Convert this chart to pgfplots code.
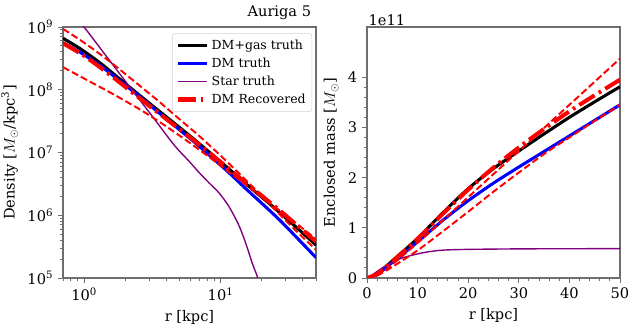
\documentclass[border=0pt]{standalone}
\usepackage{fontspec}
\setmainfont{DejaVu Serif}
\usepackage{pgfplots}
\pgfplotsset{compat=1.18}

\definecolor{mplpurple}{RGB}{128,0,128}
\definecolor{spine}{RGB}{110,110,110}

\pgfplotsset{
  panel/.style={
    width=182.16pt, height=180.72pt, scale only axis,
    axis line style={spine, line width=0.9pt},
    tick align=outside, tick pos=left,
    major tick length=3.5pt, minor tick length=2pt,
    every tick/.style={spine, line width=0.7pt},
    tick label style={font=\fontsize{10.5}{12}\selectfont},
    label style={font=\fontsize{10.5}{12}\selectfont},
    /pgf/number format/assume math mode=true,
  },
  dmgas/.style={black, line width=2.2pt, smooth},
  dmtruth/.style={blue, line width=2.2pt, smooth},
  star/.style={mplpurple, line width=1.0pt, smooth},
  dmrec/.style={red, line width=2.9pt, dash pattern=on 13pt off 3.5pt on 2pt off 3.5pt, smooth},
  dmband/.style={red, line width=1.4pt, dash pattern=on 5pt off 2.3pt, smooth},
}

\begin{document}
\begin{tikzpicture}

% ---------- density profile ----------
\begin{axis}[panel,
  at={(45.36pt,35.28pt)}, anchor=south west,
  xmode=log, ymode=log,
  xmin=0.7, xmax=50, ymin=1e5, ymax=1e9,
  xtick={1,10}, xticklabels={10\textsuperscript{0},10\textsuperscript{1}},
  minor xtick={0.7,0.8,0.9,2,3,4,5,6,7,8,9,20,30,40,50},
  ytick={1e5,1e6,1e7,1e8,1e9},
  yticklabels={10\textsuperscript{5},10\textsuperscript{6},10\textsuperscript{7},10\textsuperscript{8},10\textsuperscript{9}},
  minor ytick={2e5,3e5,4e5,5e5,6e5,7e5,8e5,9e5,2e6,3e6,4e6,5e6,6e6,7e6,8e6,9e6,
               2e7,3e7,4e7,5e7,6e7,7e7,8e7,9e7,2e8,3e8,4e8,5e8,6e8,7e8,8e8,9e8},
  xlabel={r [kpc]},
  ylabel={Density [$M_{\odot}$/kpc\textsuperscript{3}]},
  title={Auriga 5},
  title style={at={(1,1)}, anchor=south east, yshift=-4pt, font=\fontsize{10.5}{12}\selectfont},
  legend style={at={(0.985,0.975)}, anchor=north east, draw=gray!35, rounded corners=2pt,
    fill=white, fill opacity=0.85, text opacity=1, font=\fontsize{9}{10.5}\selectfont,
    inner sep=2.5pt, row sep=0.6pt},
  legend cell align=left,
  legend image code/.code={\draw[#1] (0pt,0pt) -- (21pt,0pt);},
]
\addplot[dmgas] coordinates {
  (0.7,6.61e8) (0.92,4.62e8) (1.29,2.74e8) (1.8,1.52e8) (2.53,8.26e7) (3.54,4.58e7)
  (5.56,2.08e7) (6.96,1.39e7) (11.5,5.48e6) (15.3,3.18e6) (26.8,1.13e6) (50,3.35e5)};
\addlegendentry{DM+gas truth}
\addplot[dmtruth] coordinates {
  (0.7,5.62e8) (0.92,4.03e8) (1.29,2.49e8) (1.8,1.42e8) (2.53,7.89e7) (3.54,4.28e7)
  (5.56,1.90e7) (6.96,1.26e7) (11.5,4.78e6) (15.3,2.65e6) (26.8,8.57e5) (50,2.11e5)};
\addlegendentry{DM truth}
\addplot[star] coordinates {
  (0.7,2.75e9) (1.0,1.0e9) (1.8,1.86e8) (3.0,4.37e7) (4.56,1.32e7) (5.88,7.24e6)
  (6.96,4.79e6) (8.2,3.31e6) (9.7,2.29e6) (11.5,1.38e6) (13.6,6.92e5) (15.3,3.55e5)
  (17.1,1.70e5) (18.6,1.05e5) (20,6.31e4)};
\addlegendentry{Star truth}
\addplot[dmband, forget plot] coordinates {
  (0.7,2.29e8) (1.0,1.51e8) (1.6,8.71e7) (2.5,5.01e7) (3.5,3.16e7) (5,1.86e7) (7,1.10e7)
  (10,6.17e6) (15,3.16e6) (30,1.0e6) (50,4.17e5)};
\addplot[dmband, forget plot] coordinates {
  (0.7,9.33e8) (1.0,5.62e8) (1.5,2.95e8) (2.25,1.45e8) (3.5,6.61e7) (5,3.39e7) (7,1.82e7)
  (10,8.91e6) (15,3.80e6) (25,1.23e6) (35,5.89e5) (50,2.82e5)};
\addplot[dmrec] coordinates {
  (0.7,5.50e8) (1.0,3.47e8) (1.5,1.82e8) (2.5,7.59e7) (3.5,4.27e7) (5.5,2.0e7) (7,1.32e7)
  (11.5,5.50e6) (15,3.39e6) (27,1.20e6) (50,3.80e5)};
\addlegendentry{DM Recovered}
\end{axis}

% ---------- enclosed mass ----------
\begin{axis}[panel,
  at={(264.24pt,35.28pt)}, anchor=south west,
  xmin=0, xmax=50, ymin=0, ymax=5,
  xtick={0,10,...,50}, ytick={0,1,2,3,4},
  minor x tick num=4, minor y tick num=4,
  xlabel={r [kpc]},
  ylabel={Enclosed mass [$M_{\odot}$]},
  after end axis/.code={
    \node[anchor=south west, inner sep=1pt, font=\fontsize{10.5}{12}\selectfont]
      at (rel axis cs:0,1) {1e11};},
]
\addplot[dmgas] coordinates {
  (0,0) (2,0.08) (5,0.34) (10,0.79) (15,1.3) (20,1.78) (25,2.18) (30,2.53) (35,2.87)
  (40,3.2) (45,3.51) (50,3.81)};
\addplot[dmtruth] coordinates {
  (0,0) (2,0.07) (5,0.31) (10,0.72) (15,1.15) (20,1.54) (25,1.89) (30,2.21) (35,2.52)
  (40,2.83) (45,3.14) (50,3.45)};
\addplot[star] coordinates {
  (0,0) (1,0.06) (2,0.13) (3,0.2) (4,0.26) (5,0.31) (6,0.36) (7,0.4) (8,0.43) (10,0.48)
  (12,0.52) (15,0.555) (20,0.57) (30,0.58) (40,0.583) (50,0.585)};
\addplot[dmband] coordinates {
  (0,0) (2,0.05) (5,0.27) (10,0.7) (15,1.15) (20,1.61) (25,2.07) (30,2.53) (35,2.99)
  (40,3.45) (45,3.91) (50,4.37)};
\addplot[dmband] coordinates {
  (0,0) (2,0.05) (5,0.22) (10,0.55) (15,0.93) (20,1.32) (25,1.72) (30,2.1) (35,2.47)
  (40,2.8) (45,3.13) (50,3.45)};
\addplot[dmrec] coordinates {
  (0,0) (2,0.08) (5,0.33) (10,0.78) (15,1.28) (20,1.76) (25,2.2) (30,2.6) (35,2.97)
  (40,3.32) (45,3.64) (50,3.95)};
\end{axis}

\pgfresetboundingbox
\path (0,0) rectangle (458.64pt,235.44pt);
\end{tikzpicture}
\end{document}
